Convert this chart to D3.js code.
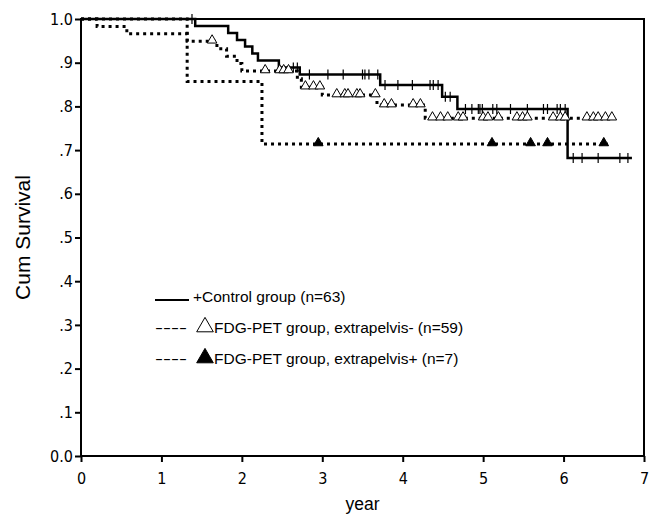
<!DOCTYPE html>
<html>
<head>
<meta charset="utf-8">
<script src="https://cdn.jsdelivr.net/npm/d3@7"></script>
<style>
  body { margin: 0; background: #fff; }
</style>
</head>
<body>
<div id="chart"></div>
<script>
// axis ticks
const yearTicks = [0, 1, 2, 3, 4, 5, 6, 7];
const survTicks = [0, 0.1, 0.2, 0.3, 0.4, 0.5, 0.6, 0.7, 0.8, 0.9, 1.0];
const survTickLabels = ["0.0", ".1", ".2", ".3", ".4", ".5", ".6", ".7", ".8", ".9", "1.0"];

// Control group (n=63): event times / survival after event
const controlTimes = [1.42, 1.83, 1.94, 2.04, 2.13, 2.20, 2.46, 2.72, 3.72, 4.49, 4.68, 6.05];
const controlSurv = [0.984, 0.968, 0.952, 0.937, 0.921, 0.905, 0.889, 0.873, 0.849, 0.822, 0.794, 0.682];
const controlEnd = 6.85;
const controlCensored = [1.38, 2.64, 2.69, 2.84, 3.07, 3.26, 3.50, 3.53, 3.58, 3.69,
    3.78, 3.94, 4.12, 4.34, 4.38, 4.44, 4.53, 4.59,
    4.78, 4.86, 4.94, 4.96, 4.99, 5.12, 5.17, 5.34, 5.55, 5.75, 5.80, 5.92, 5.96, 6.02,
    6.12, 6.23, 6.43, 6.70, 6.80];

// FDG-PET group, extrapelvis- (n=59)
const negTimes = [0.20, 0.57, 1.32, 1.69, 1.81, 1.94, 2.00, 2.69, 2.74, 3.00, 3.68, 4.28];
const negSurv = [0.983, 0.966, 0.949, 0.932, 0.915, 0.898, 0.881, 0.863, 0.844, 0.826, 0.803, 0.773];
const negEnd = 6.64;
const negCensored = [1.63, 2.29, 2.47, 2.52, 2.58, 2.79, 2.89, 2.97,
    3.18, 3.28, 3.32, 3.43, 3.47, 3.66, 3.77, 3.86, 4.13, 4.22,
    4.37, 4.47, 4.56, 4.69, 4.75, 5.00, 5.06, 5.19, 5.42, 5.49, 5.55,
    5.87, 5.96, 6.02, 6.29, 6.37, 6.43, 6.52, 6.60];

// FDG-PET group, extrapelvis+ (n=7)
const posTimes = [1.32, 2.25];
const posSurv = [0.857, 0.714];
const posEnd = 6.55;
const posCensored = [2.95, 5.11, 5.59, 5.80, 6.50];

const width = 659, height = 517;
const margin = { top: 19, right: 15, bottom: 61, left: 81 };

const svg = d3.select("#chart").append("svg")
    .attr("width", width)
    .attr("height", height)
    .style("font-family", "'Liberation Sans', Arial, sans-serif");

const x = d3.scaleLinear().domain([0, 7]).range([margin.left, width - margin.right]);
const y = d3.scaleLinear().domain([0, 1]).range([height - margin.bottom, margin.top]);

// survival level at time t (step function)
function survAt(times, surv, t) {
    let s = 1;
    times.forEach((ti, i) => { if (ti <= t) s = surv[i]; });
    return s;
}

function stepPoints(times, surv, end) {
    const pts = [[0, 1]];
    times.forEach((t, i) => pts.push([t, surv[i]]));
    pts.push([end, surv[surv.length - 1]]);
    return pts;
}

// axes
const yAxis = svg.append("g")
    .attr("transform", `translate(${margin.left},0)`)
    .call(d3.axisLeft(y).tickValues(survTicks).tickFormat((d, i) => survTickLabels[i]).tickSize(6).tickPadding(2));

const xAxis = svg.append("g")
    .attr("transform", `translate(0,${height - margin.bottom})`)
    .call(d3.axisBottom(x).tickValues(yearTicks).tickFormat(d3.format("d")).tickSize(6).tickPadding(11));

[yAxis, xAxis].forEach(ax => {
    ax.select(".domain").remove();
    ax.selectAll(".tick line").attr("stroke", "#000").attr("stroke-width", 2);
    ax.selectAll(".tick text")
        .attr("fill", "#000")
        .style("font-family", "'DejaVu Sans Condensed', 'DejaVu Sans', sans-serif")
        .style("font-size", "16px");
});

// plot frame
svg.append("rect")
    .attr("x", x(0))
    .attr("y", y(1))
    .attr("width", x(7) - x(0))
    .attr("height", y(0) - y(1))
    .attr("fill", "none")
    .attr("stroke", "#000")
    .attr("stroke-width", 2);

// axis titles
svg.append("text")
    .attr("transform", `translate(30,${(y(0) + y(1)) / 2}) rotate(-90)`)
    .attr("text-anchor", "middle")
    .style("font-size", "21px")
    .text("Cum Survival");

svg.append("text")
    .attr("x", (x(0) + x(7)) / 2)
    .attr("y", 510)
    .attr("text-anchor", "middle")
    .style("font-size", "17.5px")
    .text("year");

const line = d3.line()
    .x(d => x(d[0]))
    .y(d => y(d[1]))
    .curve(d3.curveStepAfter);

// control curve
svg.append("path")
    .datum(stepPoints(controlTimes, controlSurv, controlEnd))
    .attr("d", line)
    .attr("fill", "none")
    .attr("stroke", "#000")
    .attr("stroke-width", 2.5);

svg.selectAll(".censor")
    .data(controlCensored)
    .enter().append("line")
    .attr("class", "censor")
    .attr("x1", d => x(d))
    .attr("x2", d => x(d))
    .attr("y1", d => y(survAt(controlTimes, controlSurv, d)) - 5)
    .attr("y2", d => y(survAt(controlTimes, controlSurv, d)) + 5)
    .attr("stroke", "#000")
    .attr("stroke-width", 1.2);

// dotted curves
const dotted = [
    { times: negTimes, surv: negSurv, end: negEnd, censored: negCensored, fill: "#fff" },
    { times: posTimes, surv: posSurv, end: posEnd, censored: posCensored, fill: "#000" }
];

const tri = d3.symbol().type(d3.symbolTriangle).size(40);

dotted.forEach(g => {
    svg.append("path")
        .datum(stepPoints(g.times, g.surv, g.end))
        .attr("d", line)
        .attr("fill", "none")
        .attr("stroke", "#000")
        .attr("stroke-width", 3)
        .attr("stroke-dasharray", "3,4");

    svg.append("g").selectAll("path")
        .data(g.censored)
        .enter().append("path")
        .attr("d", tri)
        .attr("transform", d => `translate(${x(d)},${y(survAt(g.times, g.surv, d)) - 1})`)
        .attr("fill", g.fill)
        .attr("stroke", "#000")
        .attr("stroke-width", 1);
});

// legend
const legend = svg.append("g").style("font-size", "15.5px");

legend.append("line")
    .attr("x1", 155).attr("x2", 189)
    .attr("y1", 300).attr("y2", 300)
    .attr("stroke", "#000")
    .attr("stroke-width", 2);

legend.append("text")
    .attr("x", 193).attr("y", 302)
    .text("+Control group (n=63)");

const legendRows = [
    { y: 333, fill: "#fff", label: "FDG-PET group, extrapelvis- (n=59)" },
    { y: 364, fill: "#000", label: "FDG-PET group, extrapelvis+ (n=7)" }
];

legendRows.forEach(r => {
    legend.append("text")
        .attr("transform", `translate(155,${r.y}) scale(1.55,1)`)
        .text("----");
    legend.append("path")
        .attr("d", d3.symbol().type(d3.symbolTriangle).size(120))
        .attr("transform", `translate(205,${r.y - 6})`)
        .attr("fill", r.fill)
        .attr("stroke", "#000")
        .attr("stroke-width", 1);
    legend.append("text")
        .attr("x", 214).attr("y", r.y)
        .text(r.label);
});
</script>
</body>
</html>
